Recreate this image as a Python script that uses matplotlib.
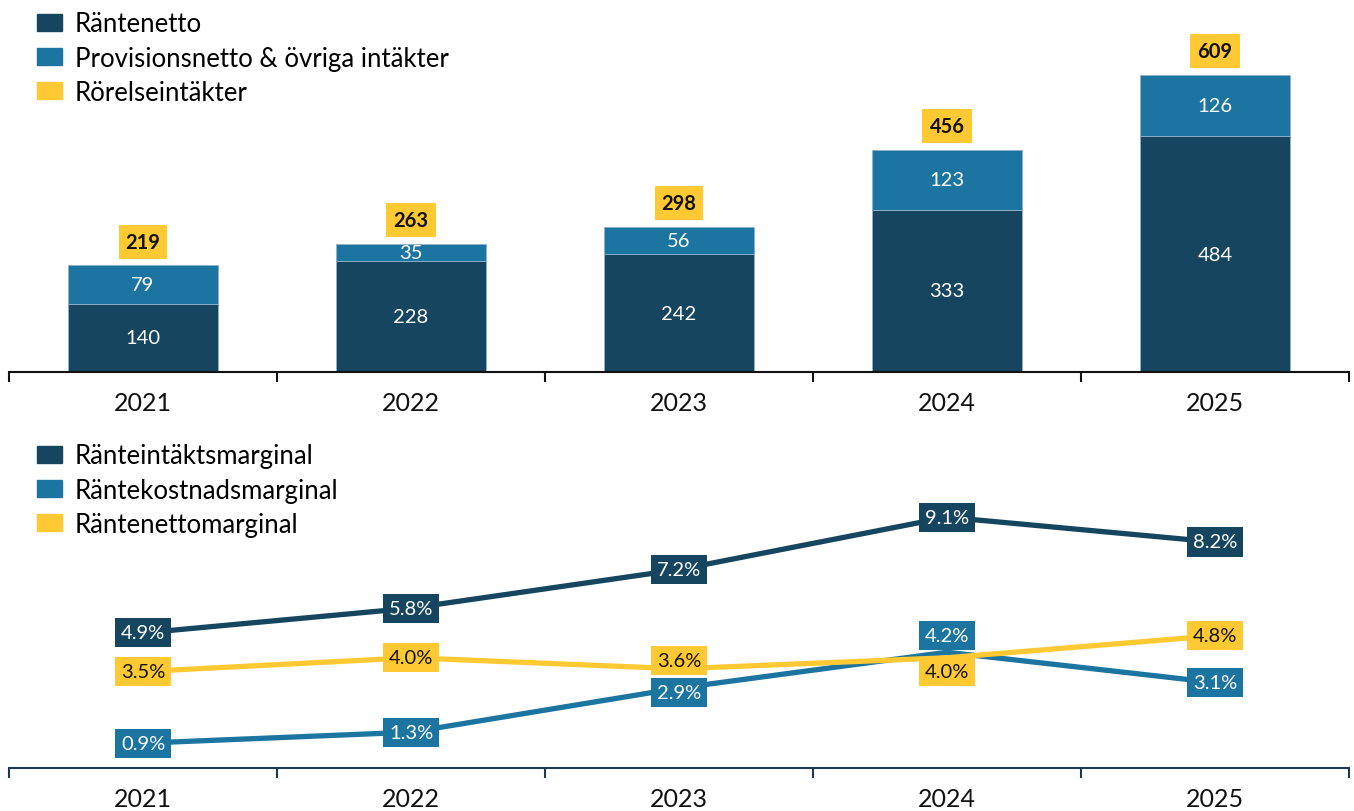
import numpy as np
import matplotlib
matplotlib.use("Agg")
import matplotlib.pyplot as plt
from matplotlib.patches import Patch

plt.rcParams["font.family"] = ["Lato", "DejaVu Sans"]

years = ["2021", "2022", "2023", "2024", "2025"]
rantenetto = [140, 228, 242, 333, 484]
provision = [79, 35, 56, 123, 126]
rorelse = [219, 263, 298, 456, 609]

intakt_marg = [4.9, 5.8, 7.2, 9.1, 8.2]
kostnad_marg = [0.9, 1.3, 2.9, 4.2, 3.1]
netto_marg = [3.5, 4.0, 3.6, 4.0, 4.8]

NAVY = "#16465f"
BLUE = "#1c74a0"
YELLOW = "#ffc933"
W, H = 1354, 812

fig = plt.figure(figsize=(W / 100, H / 100), dpi=100)


def px_axes(x0, y0, x1, y1):
    return fig.add_axes([x0 / W, 1 - y1 / H, (x1 - x0) / W, (y1 - y0) / H])


def style_xaxis(ax, spine_color):
    for s in ("top", "right", "left"):
        ax.spines[s].set_visible(False)
    ax.spines["bottom"].set_color(spine_color)
    ax.spines["bottom"].set_linewidth(1.5)
    ax.set_yticks([])
    x = np.arange(len(years))
    ax.set_xlim(-0.5, len(years) - 0.5)
    ax.set_xticks(np.arange(len(years) + 1) - 0.5)
    ax.set_xticklabels([])
    ax.tick_params(axis="x", which="major", length=7, width=1.5, color=spine_color)
    ax.set_xticks(x, minor=True)
    ax.set_xticklabels(years, minor=True, fontsize=18, color="#111111")
    ax.tick_params(axis="x", which="minor", length=0, pad=14)


def add_legend(labels, top_px):
    handles = [Patch(color=NAVY), Patch(color=BLUE), Patch(color=YELLOW)]
    fig.legend(handles, labels, loc="upper left",
               bbox_to_anchor=(27 / W, 1 - top_px / H), frameon=False,
               fontsize=18.5, handlelength=0.95, handleheight=0.65, handletextpad=0.5,
               labelspacing=0.36, borderaxespad=0)


# --- top: stacked bars ---
ax1 = px_axes(9, 0, 1349, 373)
x = np.arange(len(years))
bw = 0.556
ax1.bar(x, rantenetto, bw, color=NAVY, edgecolor="#8fb3c8", linewidth=0.6)
ax1.bar(x, provision, bw, bottom=rantenetto, color=BLUE, edgecolor="#8fb3c8", linewidth=0.6)
ax1.set_ylim(0, 765)
style_xaxis(ax1, "#111111")

for i in range(len(years)):
    ax1.text(x[i], rantenetto[i] / 2, str(rantenetto[i]), ha="center", va="center",
             color="white", fontsize=14.5)
    ax1.text(x[i], rantenetto[i] + provision[i] / 2, str(provision[i]), ha="center",
             va="center", color="white", fontsize=14.5)
    top = rantenetto[i] + provision[i]
    ax1.annotate(str(rorelse[i]), (x[i], top), xytext=(0, 17), textcoords="offset points",
                 ha="center", va="center", fontsize=14.5, fontweight="bold", color="#111111",
                 bbox=dict(boxstyle="square,pad=0.35", fc=YELLOW, ec="none"))

add_legend(["Räntenetto", "Provisionsnetto & övriga intäkter", "Rörelseintäkter"], 2)

# --- bottom: margins ---
ax2 = px_axes(9, 430, 1349, 769)
ax2.set_ylim(0, 12.3)
style_xaxis(ax2, "#1d3a4f")

series = [
    (intakt_marg, NAVY, "white", [0, 0, 0, 0, 0]),
    (kostnad_marg, BLUE, "white", [0, 0, -3, 12, 0]),
    (netto_marg, YELLOW, "#111111", [0, 0, 6, -10, 0]),
]
for vals, col, tcol, offs in series:
    ax2.plot(x, vals, color=col, lw=3.8, solid_capstyle="butt", zorder=2)
for vals, col, tcol, offs in series:
    for i, v in enumerate(vals):
        ax2.annotate(f"{v:.1f}%", (x[i], v), xytext=(0, offs[i]), textcoords="offset points",
                     ha="center", va="center", fontsize=14.5, color=tcol, zorder=3,
                     bbox=dict(boxstyle="square,pad=0.3", fc=col, ec="none"))

add_legend(["Ränteintäktsmarginal", "Räntekostnadsmarginal", "Räntenettomarginal"], 434)

fig.savefig("out.png", dpi=100)
